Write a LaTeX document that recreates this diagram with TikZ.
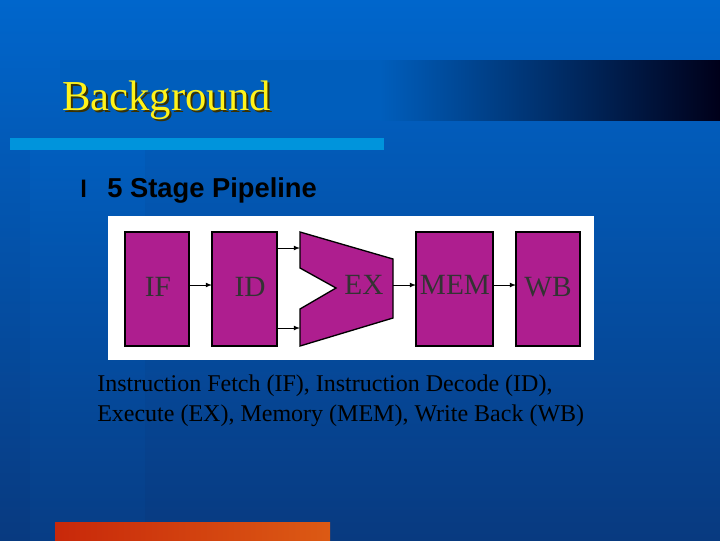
\documentclass[tikz,border=0pt]{standalone}
\usepackage{fontspec}
\setmainfont{Liberation Serif}
\newfontfamily\arialf{Liberation Sans}
\begin{document}
\begin{tikzpicture}[x=0.75pt,y=-0.75pt,
  stage/.style={draw=black,line width=1pt,fill=stagec},
  lab/.style={font=\fontsize{22}{22}\selectfont,text=black!80},
  arr/.style={-latex,line width=0.6pt}]
\definecolor{stagec}{HTML}{AE1E8F}
\definecolor{bgtop}{HTML}{0066CC}
\definecolor{bgbot}{HTML}{083A80}
\definecolor{lbar}{HTML}{0094DC}
\useasboundingbox (0,0) rectangle (720,540);
\shade[top color=bgtop,bottom color=bgbot] (0,0) rectangle (720,540);
\shade[top color=bgtop,bottom color=bgbot!80!bgtop,opacity=0.35] (30,150) rectangle (145,540);
\shade[left color=bgtop!92!black,right color=black!90!blue] (380,60) rectangle (720,120);
\fill[bgtop!92!black] (60,60) rectangle (380.5,120);
\fill[lbar] (10,138) rectangle (384,150);
\shade[left color={rgb,255:red,200;green,40;blue,10},right color={rgb,255:red,220;green,90;blue,20}] (55,522) rectangle (330,540);
\node[anchor=base west,inner sep=0,text={rgb,255:red,60;green,50;blue,0},font=\fontsize{32}{32}\selectfont] at (64,112) {Background};
\node (title) [anchor=base west,inner sep=0,text=yellow!90!white,font=\fontsize{32}{32}\selectfont] at (62,110) {Background};
\node (bul) [anchor=base west,inner sep=0,font=\arialf\bfseries\fontsize{18}{18}\selectfont,text=black] at (80,197) {l};
\node (sub) [anchor=base west,inner sep=0,font=\arialf\bfseries\fontsize{20.5}{20.5}\selectfont,text=black] at (107,197) {5 Stage Pipeline};
\fill[white] (108,216) rectangle (594,360);
\draw[stage] (125,232) rectangle (189,346);
\draw[stage] (212,232) rectangle (277,346);
\draw[stage] (300,232) -- (393,259) -- (393,318) -- (300,346) -- (300,309) -- (336,288) -- (300,268) -- cycle;
\draw[stage] (416,232) rectangle (493,346);
\draw[stage] (516,232) rectangle (580,346);
\coordinate (ifr) at (189,285); \coordinate (idl) at (212,285);
\coordinate (idt) at (277,248); \coordinate (ext) at (300,248);
\coordinate (idb) at (277,328); \coordinate (exb) at (300,328);
\coordinate (exr) at (393,285); \coordinate (meml) at (416,285);
\coordinate (memr) at (493,285); \coordinate (wbl) at (516,285);
\draw[arr] (ifr) -- (idl);
\draw[arr] (idt) -- (ext);
\draw[arr] (idb) -- (exb);
\draw[arr] (exr) -- (meml);
\draw[arr] (memr) -- (wbl);
\node (tif) [lab] at (158,287) {IF};
\node (tid) [lab] at (250,287) {ID};
\node (tex) [lab] at (364,285) {EX};
\node (tmem) [lab] at (455,285) {MEM};
\node (twb) [lab] at (548,287) {WB};
\node (c1) [anchor=base west,inner sep=0,font=\fontsize{18}{18}\selectfont,text=black] at (97,391) {Instruction Fetch (IF), Instruction Decode (ID),};
\node (c2) [anchor=base west,inner sep=0,font=\fontsize{18}{18}\selectfont,text=black] at (97,421) {Execute (EX), Memory (MEM), Write Back (WB)};
\end{tikzpicture}
\end{document}
